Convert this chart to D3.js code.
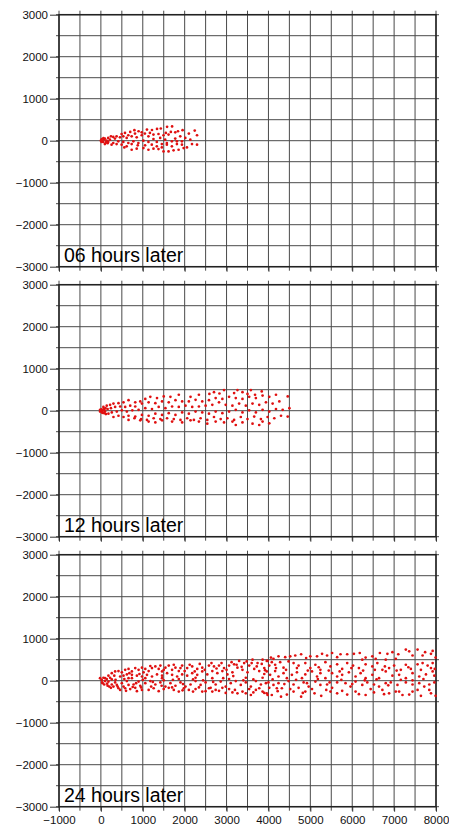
<!DOCTYPE html>
<html>
<head>
<meta charset="utf-8">
<script src="https://cdn.jsdelivr.net/npm/d3@7"></script>
<style>
  body { margin: 0; background: #fff; }
  svg { display: block; }
</style>
</head>
<body>
<svg id="chart" width="449" height="828"></svg>
<script>
// axis ticks and labels
const xTicks = [-1000, 0, 1000, 2000, 3000, 4000, 5000, 6000, 7000, 8000];
const yTicks = [-3000, -2000, -1000, 0, 1000, 2000, 3000];
const panelLabels = ["06 hours later", "12 hours later", "24 hours later"];

// particle positions (x, y)
const particles06 = [
  [1580,330],[1700,340],[1430,290],[1340,280],[1220,255],[1100,265],[800,250],[900,225],[700,210],[575,185],
  [1950,250],[1840,225],[2240,240],[2100,170],[1550,185],[1775,200],[1670,210],[1170,185],[1050,170],[975,200],
  [815,170],[655,130],[495,160],[375,105],[295,90],[240,105],[175,65],[95,50],[15,10],[55,-30],
  [135,0],[215,25],[335,50],[455,80],[535,105],[615,65],[735,105],[855,80],[975,130],[1135,105],
  [1255,145],[1375,160],[1495,130],[1615,145],[1895,105],[2015,65],[2135,25],[2295,130],[1255,40],[1415,65],
  [1535,25],[1775,50],[1695,-15],[1575,-55],[1455,-80],[1335,-30],[1135,-30],[1015,0],[895,-55],[775,-15],
  [655,-55],[535,-30],[415,-15],[295,-55],[175,-30],[95,-80],[15,-30],[255,-95],[375,-80],[495,-95],
  [615,-135],[735,-80],[880,-110],[1055,-110],[1215,-95],[1335,-135],[1455,-160],[1575,-95],[1695,-135],[1815,-80],
  [1935,-95],[2055,-160],[2175,-80],[2295,-95],[735,-215],[855,-190],[1015,-175],[1135,-215],[1255,-190],[1375,-200],
  [1495,-255],[1615,-255],[1735,-230],[1855,-215],[1975,-175],[560,-160],[1935,-15],[1815,-15],
  [0,0],[40,-20],[80,30],[120,-40],[60,60],[160,-60],[20,40]
];

const particles12 = [
  [2940,490],[3260,490],[3580,490],[3840,460],[3380,440],[3180,420],[3500,400],[3680,380],[2830,410],[2700,440],
  [2590,400],[2340,380],[2140,330],[1860,380],[1660,330],[1500,340],[1340,300],[1180,330],[1060,280],[940,220],
  [820,200],[660,250],[540,200],[420,180],[300,170],[220,140],[140,120],[60,90],[4460,340],[4180,380],
  [4020,330],[3860,360],[3700,300],[3540,330],[3380,280],[3220,300],[3060,330],[2900,280],[2740,300],[2580,250],
  [2420,220],[2260,260],[2100,220],[1940,220],[1780,250],[1620,200],[1460,220],[1300,180],[1140,200],[980,170],
  [820,100],[700,120],[580,90],[460,100],[340,90],[240,60],[160,40],[80,20],[20,10],[-20,-20],
  [30,-40],[100,-20],[4260,220],[4100,170],[3940,200],[3780,140],[3620,170],[3460,120],[3300,170],[3140,120],
  [2980,140],[2820,200],[2660,140],[2500,120],[2340,100],[2180,90],[2020,120],[1860,90],[1700,100],[1540,60],
  [1380,90],[1220,40],[1060,60],[900,20],[750,10],[620,-20],[500,10],[380,-20],[260,-40],[180,-70],
  [4500,60],[4340,20],[4180,40],[4020,-20],[3860,20],[3700,-40],[3540,10],[3380,-40],[3220,20],[3060,-20],
  [2900,-60],[2740,-20],[2580,-70],[2420,-40],[2260,-20],[2100,-70],[1940,-40],[1780,-100],[1620,-60],[1460,-100],
  [1300,-70],[1140,-120],[980,-100],[820,-140],[660,-120],[540,-150],[420,-120],[300,-150],[4460,-140],[4300,-120],
  [4140,-180],[3980,-150],[3820,-200],[3660,-140],[3500,-200],[3340,-150],[3180,-220],[3020,-180],[2860,-200],[2700,-150],
  [2540,-220],[2380,-180],[2220,-220],[2060,-180],[1900,-220],[1740,-200],[1580,-180],[1420,-200],[1260,-180],[1100,-220],
  [960,-200],[800,-180],[660,-220],[4020,-300],[3860,-260],[3620,-310],[3380,-280],[3140,-260],[2940,-280],[2740,-260],
  [2540,-310],[2340,-260],[2140,-230],[1940,-280],[1700,-260],[1460,-230],[1300,-280],[1140,-260],[940,-230],[3780,-340],
  [3220,-340],[0,0],[-20,20],[30,-30],[10,30],[50,10],[40,-50],[80,-60],[120,-80],[70,50],[110,60]
];

const particles24 = [
  [-20,60],[20,20],[60,70],[100,-10],[30,-40],[140,40],[180,-20],[80,-90],[220,70],[160,-120],
  [260,-90],[300,-140],[240,-170],[340,-40],[380,-100],[420,-180],[350,20],[460,100],[500,-60],[540,-140],
  [580,-180],[620,-10],[660,-100],[700,-200],[740,60],[780,-90],[820,-170],[860,-250],[900,-20],[940,-120],
  [980,-220],[180,120],[260,180],[340,220],[420,230],[500,200],[580,260],[660,280],[740,220],[820,300],
  [900,260],[980,310],[1060,280],[1140,230],[1220,300],[1300,340],[1380,280],[1460,220],[1540,310],[1620,360],
  [1700,260],[1780,310],[1860,230],[1940,360],[2060,300],[2180,340],[2300,280],[2420,310],[2580,360],[2700,340],
  [2820,360],[2940,300],[3060,360],[3180,390],[3300,470],[3420,420],[3540,360],[3620,500],[3740,420],[3860,500],
  [3980,470],[4020,360],[3900,300],[3780,230],[3660,280],[3500,200],[3380,260],[3260,310],[3140,200],[3020,150],
  [2900,230],[2780,180],[2660,230],[2540,150],[2420,220],[2300,140],[2180,180],[2060,120],[1940,150],[1820,100],
  [1700,140],[1580,180],[1460,120],[1340,150],[1220,100],[1100,140],[980,100],[860,120],[740,140],[620,150],
  [540,120],[1060,-60],[1180,-10],[1300,-90],[1420,-40],[1540,-140],[1660,-60],[1780,-120],[1900,-40],[2020,-140],
  [2140,-90],[2260,-10],[2380,-100],[2500,-40],[2620,-170],[2740,-90],[2860,-20],[2980,-140],[3100,-60],[3220,-10],
  [3340,-100],[3460,-40],[3580,-140],[3700,-10],[3820,-90],[3940,-60],[1140,-220],[1260,-180],[1380,-250],[1500,-200],
  [1620,-170],[1740,-220],[1860,-260],[1980,-180],[2100,-220],[2260,-200],[2420,-260],[2580,-180],[2740,-220],[2900,-170],
  [3060,-200],[3140,-280],[3260,-300],[3380,-260],[3540,-200],[3580,-340],[3700,-220],[3860,-260],[3980,-340],[4020,-170],
  [660,60],[1060,60],[1460,60],[1860,40],[2260,70],[2660,60],[3060,40],[3460,70],[3860,70],
  [4060,550],[4240,580],[4520,580],[4780,630],[5000,580],[5160,580],[5400,600],[5520,660],[5720,630],[5880,630],
  [6180,660],[6320,550],[6480,580],[6660,660],[6960,680],[7100,630],[7280,740],[7560,740],[7740,680],[7920,710],
  [7990,550],[7440,600],[6800,500],[3960,470],[4080,440],[4160,380],[4280,440],[4360,310],[4480,460],[4600,420],
  [4720,360],[4880,420],[5000,300],[5120,380],[5240,260],[5360,440],[5480,340],[5640,390],[5760,280],[5880,420],
  [6020,360],[6160,300],[6320,390],[6480,340],[6600,420],[6720,260],[6880,300],[7000,360],[7160,260],[7280,380],
  [7400,280],[7560,390],[7680,420],[7800,360],[7920,420],[7970,280],[3960,220],[4040,140],[4160,230],[4240,100],
  [4360,180],[4440,60],[4560,140],[4680,200],[4800,60],[4880,150],[5040,220],[5160,100],[5240,180],[5360,60],
  [5520,180],[5640,100],[5760,140],[5920,200],[6080,100],[6200,180],[6320,60],[6480,140],[6640,60],[6800,220],
  [6960,120],[7120,140],[7280,60],[7440,180],[7600,100],[7760,150],[7920,220],[7960,120],[4000,-40],[4120,-100],
  [4240,-60],[4320,-180],[4480,-10],[4600,-90],[4720,-170],[4840,-40],[4960,-140],[5120,-20],[5240,-100],[5400,-90],
  [5520,-170],[5640,-40],[5840,-60],[5960,-140],[6080,-20],[6240,-100],[6360,-40],[6520,-90],[6640,-140],[6800,-60],
  [6920,-40],[7080,-100],[7280,-40],[7440,-90],[7600,-60],[7720,-140],[7840,-90],[7960,-40],[3960,-300],[4080,-340],
  [4200,-180],[4300,-380],[4440,-330],[4600,-260],[4780,-380],[4880,-260],[5040,-200],[5260,-360],[5480,-260],[5640,-300],
  [5880,-330],[6080,-260],[6320,-340],[6520,-280],[6720,-220],[6880,-300],[7200,-340],[7440,-260],[7640,-360],[7990,-360],
  [7840,-220],[7040,-260],
  [1020,200],[1180,350],[1420,360],[1500,260],[1740,380],[1900,300],[2000,230],[2120,380],[2240,220],[2360,400],
  [2480,260],[2640,420],[2760,290],[2880,420],[3000,260],[3120,440],[3240,380],[3360,330],[3480,460],[3600,420],
  [3720,340],[3840,400],[3920,250],[1000,20],[1240,-30],[1500,10],[1720,20],[1960,-80],[2200,30],[2440,10],
  [2680,-30],[2920,60],[3160,110],[3400,10],[3640,30],[3900,160],[1200,-140],[1450,-120],[1700,-160],[1950,-230],
  [2200,-260],[2340,-160],[2500,-250],[2660,-260],[2820,-240],[2980,-290],[3200,-220],[3460,-300],[3640,-280],[3780,-180],
  [3900,-290],[4120,520],[4400,560],[4640,600],[4900,540],[5280,640],[5640,560],[6040,640],[6240,500],[6560,520],
  [6840,640],[7040,520],[7360,700],[7680,600],[7880,640],[4180,300],[4420,260],[4680,300],[4940,240],[5200,320],
  [5440,240],[5700,220],[5980,300],[6260,240],[6540,260],[6780,340],[7060,240],[7340,320],[7640,260],[7880,300],
  [4100,30],[4380,-80],[4660,20],[4920,-60],[5180,40],[5460,-40],[5740,20],[6000,-80],[6300,10],[6580,30],
  [6860,-110],[7160,20],[7440,10],[7700,40],[4220,-250],[4520,-200],[4820,-290],[5100,-300],[5380,-220],[5760,-240],
  [6160,-320],[6440,-200],[6760,-320],[7120,-260],[7360,-330],[7560,-220],[7880,-300],[40,-60],[100,60],[150,-70],
  [200,-140],[260,30],[320,120],[400,-140],[460,-220],[560,40],[600,-240],[680,180],[760,-150],[840,-60],
  [920,160],[960,-160]
];

const panels = [particles06, particles12, particles24];

let left = 59, top0 = 14.7, plotW = 377, plotH = 252, panelStep = 270;

let x = d3.scaleLinear().domain([-1000, 8000]).range([0, plotW]);
let y = d3.scaleLinear().domain([-3000, 3000]).range([plotH, 0]);

let minus = d => String(d).replace("-", "\u2212");

let svg = d3.select("#chart");

let draw_panel = function(g, points, label, showX) {
  let gridX = d3.range(-1000, 8001, 500);
  let gridY = d3.range(-3000, 3001, 500);

  // grid, poking a little out of the frame
  g.append("g").selectAll("line")
    .data(gridX)
    .join("line")
      .attr("x1", d => x(d)).attr("x2", d => x(d))
      .attr("y1", -4).attr("y2", plotH + 4)
      .attr("stroke", "#4a4a4a").attr("stroke-width", 1);
  g.append("g").selectAll("line")
    .data(gridY)
    .join("line")
      .attr("y1", d => y(d)).attr("y2", d => y(d))
      .attr("x1", -3).attr("x2", plotW + 3)
      .attr("stroke", "#4a4a4a").attr("stroke-width", 1);

  let yAxis = d3.axisLeft(y).tickValues(yTicks).tickSize(9).tickPadding(2).tickFormat(minus);
  g.append("g")
    .call(yAxis)
    .call(a => a.select(".domain").remove())
    .call(a => a.selectAll("line").attr("stroke", "#333"))
    .call(a => a.selectAll("text")
      .attr("font-family", "Liberation Sans, Arial, sans-serif")
      .attr("font-size", 11.5).attr("fill", "#111"));

  let xAxis = d3.axisBottom(x).tickValues(xTicks).tickSize(5).tickPadding(4)
    .tickFormat(showX ? minus : "");
  g.append("g")
    .attr("transform", `translate(0 ${plotH})`)
    .call(xAxis)
    .call(a => a.select(".domain").remove())
    .call(a => a.selectAll("line").attr("stroke", "#333"))
    .call(a => a.selectAll("text")
      .attr("font-family", "Liberation Sans, Arial, sans-serif")
      .attr("font-size", 11.5).attr("fill", "#111"));

  g.append("rect")
    .attr("width", plotW).attr("height", plotH)
    .attr("fill", "none").attr("stroke", "#222").attr("stroke-width", 1.5);

  g.append("g").selectAll("circle")
    .data(points)
    .join("circle")
      .attr("cx", d => x(d[0]))
      .attr("cy", d => y(d[1]))
      .attr("r", 1.35)
      .attr("fill", "#e01010");

  g.append("text")
    .attr("x", 5).attr("y", plotH - 4.5)
    .attr("font-family", "Liberation Sans, Arial, sans-serif")
    .attr("font-size", 19.5)
    .attr("fill", "#000")
    .text(label);
};

panels.forEach((pts, i) => {
  let g = svg.append("g").attr("transform", `translate(${left} ${top0 + i * panelStep})`);
  draw_panel(g, pts, panelLabels[i], i === panels.length - 1);
});
</script>
</body>
</html>
